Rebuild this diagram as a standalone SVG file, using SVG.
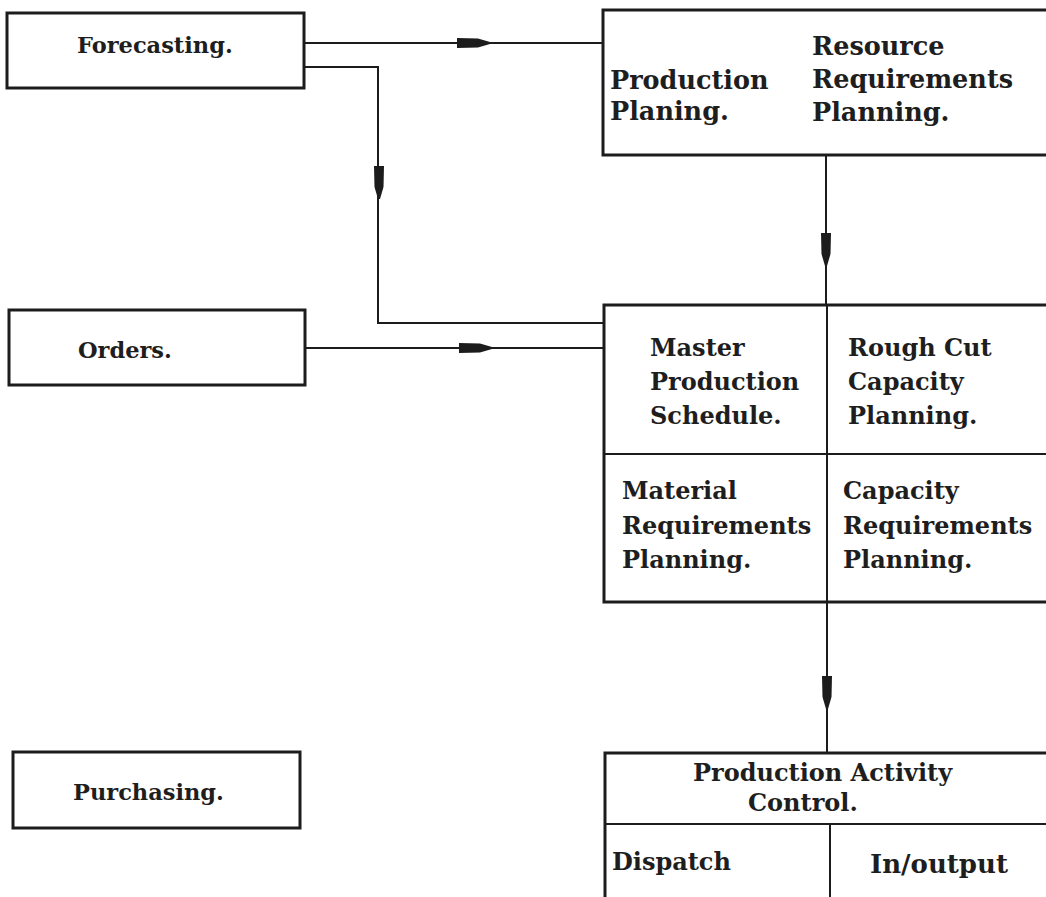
<svg xmlns="http://www.w3.org/2000/svg" width="1046" height="897" viewBox="0 0 1046 897">
<style>
.box{fill:none;stroke:#1c1c1c;stroke-width:3}
.div{fill:none;stroke:#1c1c1c;stroke-width:2}
.con{fill:none;stroke:#1c1c1c;stroke-width:2}
.ah{fill:#1c1c1c}
text{font-family:"DejaVu Serif","Liberation Serif",serif;font-weight:bold;font-size:22.5px;fill:#1e1e1e}
.pp{font-size:25.5px}
.mps{font-size:24px}
.pac{font-size:24px}
</style>
<defs>
<path id="arrowR" d="M0,-5 L21,-4.5 L33,-1 L33,1 L21,4.5 L0,5 Z"/>
</defs>
<rect width="1046" height="897" fill="#ffffff"/>
<g id="connectors">
<path class="con" d="M304,43 H603"/>
<path class="con" d="M304,67 H378 V323 H604"/>
<path class="con" d="M305,348 H604"/>
<path class="con" d="M826,155 V305"/>
<path class="con" d="M827,602 V753"/>
<use href="#arrowR" class="ah" transform="translate(457,43)"/>
<use href="#arrowR" class="ah" transform="translate(459,348)"/>
<use href="#arrowR" class="ah" transform="translate(379,166) rotate(90)"/>
<use href="#arrowR" class="ah" transform="translate(826,233) rotate(90)"/>
<use href="#arrowR" class="ah" transform="translate(827,676) rotate(90)"/>
</g>
<g id="forecasting">
<rect class="box" x="7" y="13" width="297" height="75"/>
<text x="77" y="53">Forecasting.</text>
</g>
<g id="orders">
<rect class="box" x="9" y="310" width="296" height="75"/>
<text x="78" y="358">Orders.</text>
</g>
<g id="purchasing">
<rect class="box" x="13" y="752" width="287" height="76"/>
<text x="73" y="800">Purchasing.</text>
</g>
<g id="production-planning">
<rect class="box" x="603" y="10" width="460" height="145"/>
<text class="pp" x="610" y="89">Production</text>
<text class="pp" x="610" y="120">Planing.</text>
<text class="pp" x="812" y="55">Resource</text>
<text class="pp" x="812" y="88">Requirements</text>
<text class="pp" x="812" y="121">Planning.</text>
</g>
<g id="mps-mrp">
<rect class="box" x="604" y="305" width="460" height="297"/>
<path class="div" d="M604,454 H1050 M827,305 V602"/>
<text class="mps" x="650" y="356">Master</text>
<text class="mps" x="650" y="390">Production</text>
<text class="mps" x="650" y="424">Schedule.</text>
<text class="mps" x="848" y="356">Rough Cut</text>
<text class="mps" x="848" y="390">Capacity</text>
<text class="mps" x="848" y="424">Planning.</text>
<text class="mps" x="622" y="499">Material</text>
<text class="mps" x="622" y="534">Requirements</text>
<text class="mps" x="622" y="568">Planning.</text>
<text class="mps" x="843" y="499">Capacity</text>
<text class="mps" x="843" y="534">Requirements</text>
<text class="mps" x="843" y="568">Planning.</text>
</g>
<g id="production-activity-control">
<path class="box" d="M1060,753 H605 V905"/>
<path class="div" d="M605,824 H1050 M830,824 V905"/>
<text class="pac" x="693" y="781">Production Activity</text>
<text class="pac" x="748" y="811">Control.</text>
<text class="pac" x="612" y="870">Dispatch</text>
<text class="pac" x="870" y="873" style="font-size:26px">In/output</text>
</g>
</svg>
